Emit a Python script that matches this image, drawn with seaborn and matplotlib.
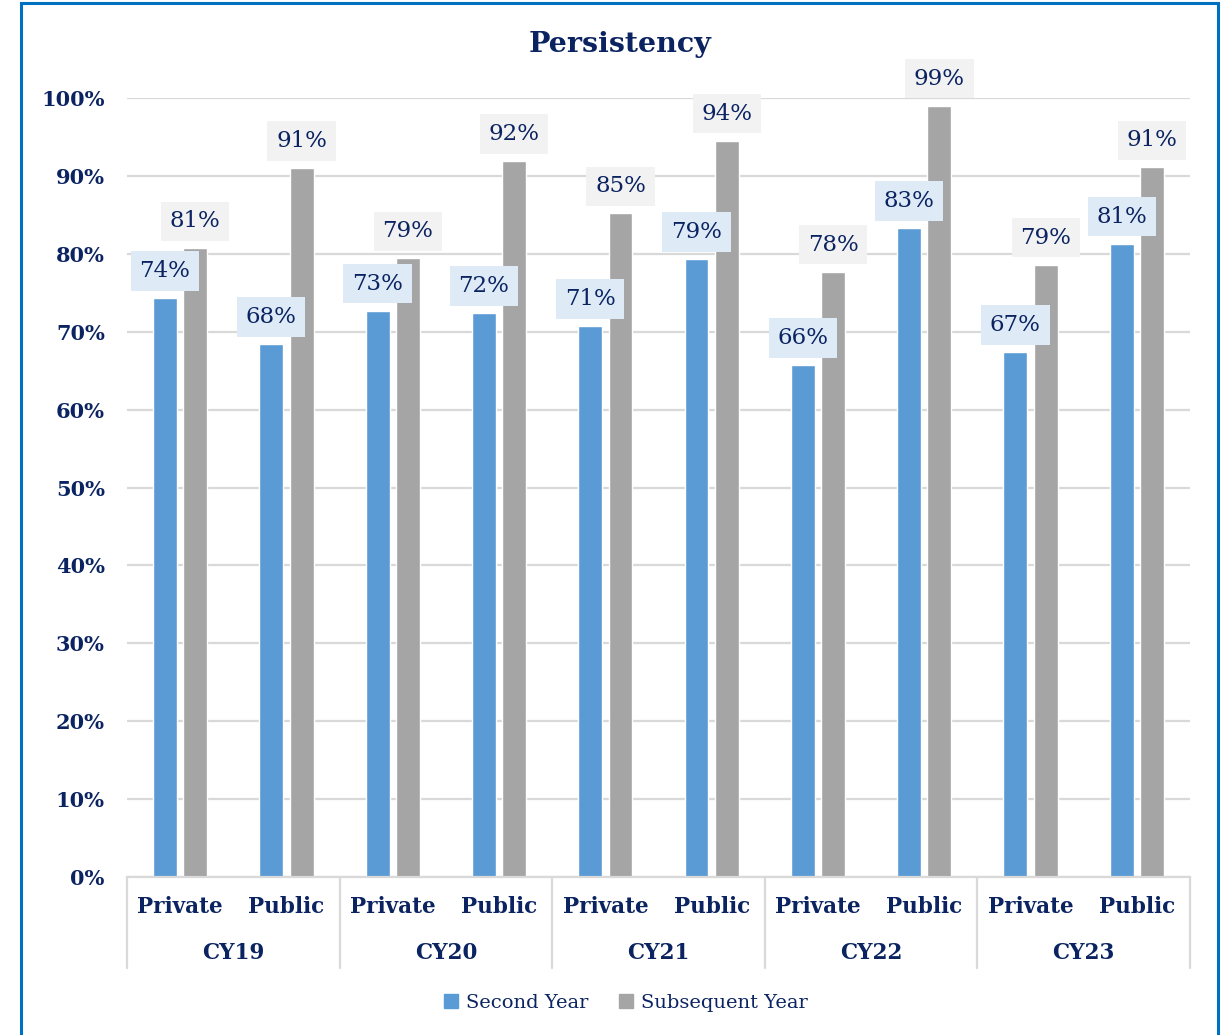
import matplotlib
matplotlib.use("Agg")
import matplotlib.pyplot as plt
import matplotlib.patches as mpatches
import matplotlib.lines as mlines
from matplotlib.ticker import PercentFormatter
import pandas as pd
import seaborn as sns

# Data
years = ["CY19", "CY20", "CY21", "CY22", "CY23"]
sectors = ["Private", "Public"]
series_names = ["Second Year", "Subsequent Year"]
second_year = [0.743, 0.684, 0.727, 0.724, 0.707, 0.793, 0.657, 0.833, 0.674, 0.813]
subsequent_year = [0.807, 0.910, 0.794, 0.919, 0.852, 0.945, 0.777, 0.990, 0.786, 0.911]

NAVY = "#0B2461"
BLUE = "#5B9BD5"
GRAY = "#A5A5A5"
GRID = "#D9D9D9"

slots = [f"{y} {s}" for y in years for s in sectors]
df = pd.DataFrame({
    "slot": slots * 2,
    "series": [series_names[0]] * len(slots) + [series_names[1]] * len(slots),
    "value": second_year + subsequent_year,
})

sns.set_theme(style="white")
plt.rcParams["font.family"] = ["DejaVu Serif"]

fig = plt.figure(figsize=(12.25, 10.35), dpi=100)
ax = fig.add_axes([127 / 1225, 1 - 877 / 1035, (1190 - 127) / 1225, (877 - 98) / 1035])

sns.barplot(data=df, x="slot", y="value", hue="series", order=slots,
            hue_order=series_names, palette=[BLUE, GRAY], width=0.57, gap=0.21,
            saturation=1, legend=False, ax=ax)

ax.set_xlim(-0.5, len(slots) - 0.5)
ax.set_ylim(0, 1.0)
ax.set_yticks([i / 10 for i in range(11)])
ax.yaxis.set_major_formatter(PercentFormatter(1.0, decimals=0))
ax.grid(axis="y", color=GRID, linewidth=1.6)
ax.set_axisbelow(True)
for side in ["left", "right", "top"]:
    ax.spines[side].set_visible(False)
ax.spines["bottom"].set_color(GRID)
ax.spines["bottom"].set_linewidth(1.6)
ax.tick_params(axis="y", length=0, pad=16, labelsize=15, labelcolor=NAVY)
for lbl in ax.get_yticklabels():
    lbl.set_fontweight("bold")
ax.set_xlabel("")
ax.set_ylabel("")

# Two-level category axis
ax.set_xticks(range(len(slots)))
ax.set_xticklabels([s for _ in years for s in sectors], fontsize=15.5,
                   fontweight="bold", color=NAVY)
ax.tick_params(axis="x", length=0, pad=14)
xt = ax.get_xaxis_transform()
for i, y in enumerate(years):
    ax.text(2 * i + 0.5, -0.0976, y, transform=xt, ha="center", va="center",
            fontsize=15.5, fontweight="bold", color=NAVY)
for b in range(len(years) + 1):
    ax.add_line(mlines.Line2D([2 * b - 0.5, 2 * b - 0.5], [0, -0.117], transform=xt,
                              color=GRID, linewidth=1.6, clip_on=False))

# Value labels in boxes above the bars
box_colors = ["#DEEBF7", "#F2F2F2"]
for container, fc in zip(ax.containers, box_colors):
    for bar in container:
        h = bar.get_height()
        ax.annotate(f"{round(h * 100):.0f}%", (bar.get_x() + bar.get_width() / 2, h),
                    xytext=(0, 19.5), textcoords="offset points", ha="center",
                    va="center", fontsize=16.5, color=NAVY, annotation_clip=False,
                    bbox=dict(boxstyle="square,pad=0.38", fc=fc, ec="none"))

fig.text(620 / 1225, 1 - 45 / 1035, "Persistency", ha="center", va="center",
         fontsize=20.5, fontweight="bold", color=NAVY)

handles = [mpatches.Patch(color=BLUE, label=series_names[0]),
           mpatches.Patch(color=GRAY, label=series_names[1])]
fig.legend(handles=handles, loc="center", bbox_to_anchor=(626 / 1225, 1 - 1003 / 1035),
           ncol=2, frameon=False, fontsize=14, labelcolor=NAVY, handlelength=0.7,
           handleheight=0.7, handletextpad=0.4, columnspacing=1.6)

# Outer frame
fig.patches.append(mpatches.Rectangle((21 / 1225, -0.02), (1218 - 21) / 1225, 1.02 - 3 / 1035,
                                      transform=fig.transFigure, fill=False,
                                      edgecolor="#0070C0", linewidth=2.2))

fig.savefig("out.png", dpi=100)
